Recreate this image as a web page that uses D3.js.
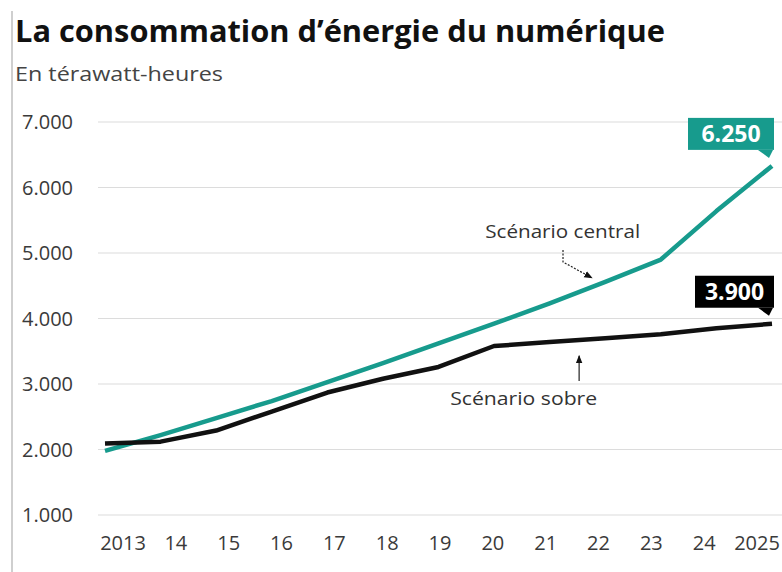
<!DOCTYPE html>
<html>
<head>
<meta charset="utf-8">
<script src="https://cdn.jsdelivr.net/npm/d3@7"></script>
<style>
    body { margin: 0; background: #fff; }
    text { font-family: "Open Sans", Roboto, sans-serif; }
</style>
</head>
<body>
<div id="chart"></div>
<script>
// data
var years = [2013, 2014, 2015, 2016, 2017, 2018, 2019, 2020, 2021, 2022, 2023, 2024, 2025];
var central = [1980, 2220, 2480, 2740, 3030, 3320, 3620, 3920, 4230, 4560, 4900, 5640, 6330];
var sobre = [2090, 2120, 2290, 2580, 2870, 3080, 3260, 3580, 3640, 3700, 3760, 3850, 3920];
var yTicks = [1000, 2000, 3000, 4000, 5000, 6000, 7000];
var xLabels = ["2013", "14", "15", "16", "17", "18", "19", "20", "21", "22", "23", "24", "2025"];
var endLabels = ["6.250", "3.900"];
var seriesNames = ["Scénario central", "Scénario sobre"];

var width = 782,
    height = 572;
var teal = "#179b8d";

var svg = d3.select("#chart").append("svg")
    .attr("width", width)
    .attr("height", height);

var x = d3.scaleLinear().domain([2013, 2025]).range([105, 772]);
var xLab = d3.scalePoint().domain(xLabels).range([123, 757]);
var y = d3.scaleLinear().domain([1000, 7000]).range([515, 122]);

var fr = d3.formatLocale({ decimal: ",", thousands: ".", grouping: [3], currency: ["", " €"] });
var fmt = fr.format(",");

// left rule
svg.append("line")
    .attr("x1", 12).attr("x2", 12)
    .attr("y1", 11).attr("y2", height)
    .attr("stroke", "#cfcfcf")
    .attr("stroke-width", 2);

svg.append("text")
    .attr("x", 15).attr("y", 42)
    .attr("font-size", 30)
    .attr("font-weight", 700)
    .attr("fill", "#111")
    .attr("textLength", 650)
    .attr("lengthAdjust", "spacingAndGlyphs")
    .text("La consommation d’énergie du numérique");

svg.append("text")
    .attr("x", 15).attr("y", 81)
    .attr("font-size", 20)
    .attr("fill", "#444")
    .attr("textLength", 208)
    .attr("lengthAdjust", "spacingAndGlyphs")
    .text("En térawatt-heures");

// grid + y labels
var yAxis = svg.append("g");
yAxis.selectAll("line")
    .data(yTicks)
    .enter().append("line")
    .attr("x1", 98).attr("x2", width)
    .attr("y1", d => y(d)).attr("y2", d => y(d))
    .attr("stroke", "#dcdcdc")
    .attr("stroke-width", 1.2);
yAxis.selectAll("text")
    .data(yTicks)
    .enter().append("text")
    .attr("x", 73)
    .attr("y", d => y(d))
    .attr("dy", "0.36em")
    .attr("text-anchor", "end")
    .attr("font-size", 20)
    .attr("fill", "#3a3a3a")
    .text(d => fmt(d));

svg.append("g").selectAll("text")
    .data(xLabels)
    .enter().append("text")
    .attr("x", d => xLab(d))
    .attr("y", 550)
    .attr("text-anchor", "middle")
    .attr("font-size", 20)
    .attr("fill", "#3a3a3a")
    .text(d => d);

var line = d3.line()
    .x(d => x(d[0]))
    .y(d => y(d[1]));

var series = [
    { values: d3.zip(years, central), color: teal },
    { values: d3.zip(years, sobre), color: "#111" }
];

svg.selectAll("path.serie")
    .data(series)
    .enter().append("path")
    .attr("class", "serie")
    .attr("d", d => line(d.values))
    .attr("fill", "none")
    .attr("stroke", d => d.color)
    .attr("stroke-width", 4.5)
    .attr("stroke-linejoin", "round");

// end value boxes
var boxes = [
    { last: central[central.length - 1], label: endLabels[0], color: teal, w: 86 },
    { last: sobre[sobre.length - 1], label: endLabels[1], color: "#000", w: 79 }
];
var bx = svg.selectAll("g.box")
    .data(boxes)
    .enter().append("g")
    .attr("class", "box")
    .attr("transform", d => "translate(" + (x(2025) + 2) + "," + (y(d.last) - 16) + ")");
bx.append("rect")
    .attr("x", d => -d.w).attr("y", -32)
    .attr("width", d => d.w).attr("height", 32)
    .attr("fill", d => d.color);
bx.append("path")
    .attr("d", "M-16,0 L-1,0 L-5,8 Z")
    .attr("fill", d => d.color);
bx.append("text")
    .attr("x", d => -d.w / 2)
    .attr("y", -8)
    .attr("text-anchor", "middle")
    .attr("font-size", 23)
    .attr("font-weight", 700)
    .attr("fill", "#fff")
    .text(d => d.label);

// annotations
svg.append("defs").append("marker")
    .attr("id", "ah")
    .attr("viewBox", "0 0 10 10")
    .attr("refX", 9).attr("refY", 5)
    .attr("markerWidth", 7).attr("markerHeight", 7)
    .attr("orient", "auto")
    .append("path")
    .attr("d", "M0,1 L10,5 L0,9 Z")
    .attr("fill", "#111");

svg.append("text")
    .attr("x", x(2019.84)).attr("y", y(5229))
    .attr("font-size", 18)
    .attr("fill", "#333")
    .attr("textLength", 155)
    .attr("lengthAdjust", "spacingAndGlyphs")
    .text(seriesNames[0]);
svg.append("path")
    .attr("d", line([[2021.24, 5046], [2021.24, 4863], [2021.76, 4620]]))
    .attr("fill", "none")
    .attr("stroke", "#222")
    .attr("stroke-width", 1.2)
    .attr("stroke-dasharray", "2,1.5")
    .attr("marker-end", "url(#ah)");

svg.append("text")
    .attr("x", x(2019.21)).attr("y", y(2679))
    .attr("font-size", 18)
    .attr("fill", "#333")
    .attr("textLength", 147)
    .attr("lengthAdjust", "spacingAndGlyphs")
    .text(seriesNames[1]);
svg.append("path")
    .attr("d", line([[2021.53, 3046], [2021.53, 3430]]))
    .attr("fill", "none")
    .attr("stroke", "#222")
    .attr("stroke-width", 1.2)
    .attr("marker-end", "url(#ah)");
</script>
</body>
</html>
